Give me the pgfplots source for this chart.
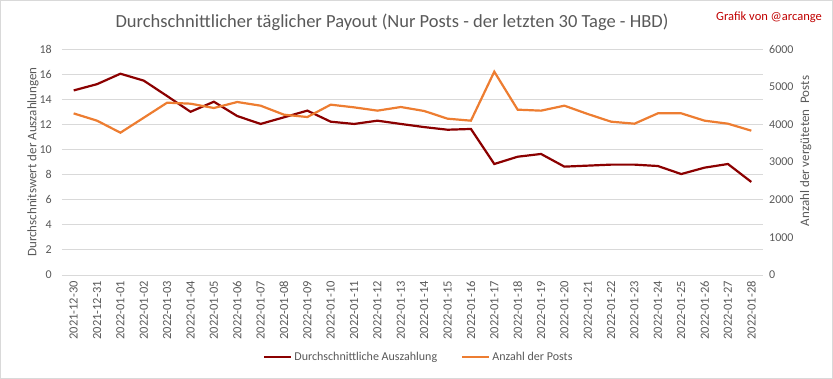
\documentclass[border=0pt]{standalone}
\usepackage{pgfplots}
\pgfplotsset{compat=1.18}
\usepackage{fontspec}
\setmainfont{Carlito}
\definecolor{redline}{RGB}{139,0,0}
\definecolor{orangeline}{RGB}{237,125,49}
\definecolor{txtgray}{RGB}{89,89,89}
\definecolor{gridgray}{RGB}{217,217,217}
\definecolor{credit}{RGB}{192,0,0}
\pgfplotstableread{
i red orange
0 14.7 4290
1 15.2 4097
2 16.03 3778
3 15.48 4176
4 14.25 4575
5 13.0 4548
6 13.8 4433
7 12.66 4593
8 12.03 4495
9 12.56 4256
10 13.09 4194
11 12.21 4522
12 12.03 4451
13 12.29 4363
14 12.03 4460
15 11.78 4354
16 11.57 4150
17 11.63 4097
18 8.84 5398
19 9.42 4389
20 9.64 4363
21 8.63 4495
22 8.71 4274
23 8.79 4070
24 8.79 4017
25 8.68 4292
26 8.04 4292
27 8.55 4097
28 8.84 4017
29 7.41 3831
}\data
\begin{document}
\begin{tikzpicture}
\useasboundingbox (-62pt,-104pt) rectangle (771pt,275pt);
\draw[gridgray, line width=0.8pt] (-61.5pt,-103.5pt) rectangle (770.5pt,274.5pt);
\pgfplotsset{
  base/.style={
    scale only axis, width=701pt, height=226pt,
    xmin=-0.5, xmax=29.5,
    major tick length=0pt,
    tick label style={font=\fontsize{12}{14}\selectfont, text=txtgray},
    /pgf/number format/assume math mode=true,
    /pgf/number format/1000 sep={},
    y axis line style={draw=none},
  }
}
\begin{axis}[base,
  axis x line*=bottom, axis y line*=left,
  x axis line style={draw=gridgray, line width=0.8pt},
  ymin=0, ymax=18, ytick={0,2,...,18},
  ymajorgrids, grid style={gridgray, line width=0.8pt},
  xtick={0,...,29},
  xticklabels={2021-12-30,2021-12-31,2022-01-01,2022-01-02,2022-01-03,2022-01-04,2022-01-05,2022-01-06,2022-01-07,2022-01-08,2022-01-09,2022-01-10,2022-01-11,2022-01-12,2022-01-13,2022-01-14,2022-01-15,2022-01-16,2022-01-17,2022-01-18,2022-01-19,2022-01-20,2022-01-21,2022-01-22,2022-01-23,2022-01-24,2022-01-25,2022-01-26,2022-01-27,2022-01-28},
  xticklabel style={rotate=90, anchor=east, inner sep=0pt, xshift=-6pt, font=\fontsize{12.5}{14}\selectfont},
  yticklabel style={anchor=east, inner sep=0pt, xshift=-10pt},
  ylabel={Durchschnitswert der Auszahlungen},
  every axis y label/.style={at={(axis description cs:-0.0414,0.5)}, rotate=90, anchor=center, font=\fontsize{13}{15}\selectfont, text=txtgray},
]
\addplot[redline, line width=2.2pt, no marks] table[x=i, y=red] {\data};
\end{axis}
\begin{axis}[base,
  axis x line=none, axis y line*=right,
  ymin=0, ymax=6000, ytick={0,1000,...,6000},
  yticklabel style={anchor=west, inner sep=0pt, xshift=6pt},
  ylabel={Anzahl der vergüteten\ \ Posts},
  every axis y label/.style={at={(axis description cs:1.061,0.549)}, rotate=90, anchor=center, font=\fontsize{13}{15}\selectfont, text=txtgray},
  legend style={at={(axis description cs:0.509,-0.363)}, anchor=center, draw=none,
    font=\fontsize{12}{14}\selectfont, text=txtgray, legend columns=2,
    /tikz/every even column/.append style={column sep=22pt}},
  legend image code/.code={\draw[#1] (0pt,0pt) -- (27pt,0pt);},
]
\addlegendimage{redline, line width=2.2pt}
\addlegendentry{Durchschnittliche Auszahlung}
\addplot[orangeline, line width=2.2pt, no marks] table[x=i, y=orange] {\data};
\addlegendentry{Anzahl der Posts}
\end{axis}
\node[font=\fontsize{18.5}{22}\selectfont, text=txtgray] at (330pt,253pt) {Durchschnittlicher täglicher Payout (Nur Posts - der letzten 30 Tage - HBD)};
\node[font=\fontsize{12.5}{14}\selectfont, text=credit, anchor=east, inner sep=0pt] at (760pt,258pt) {Grafik von @arcange};
\end{tikzpicture}
\end{document}
